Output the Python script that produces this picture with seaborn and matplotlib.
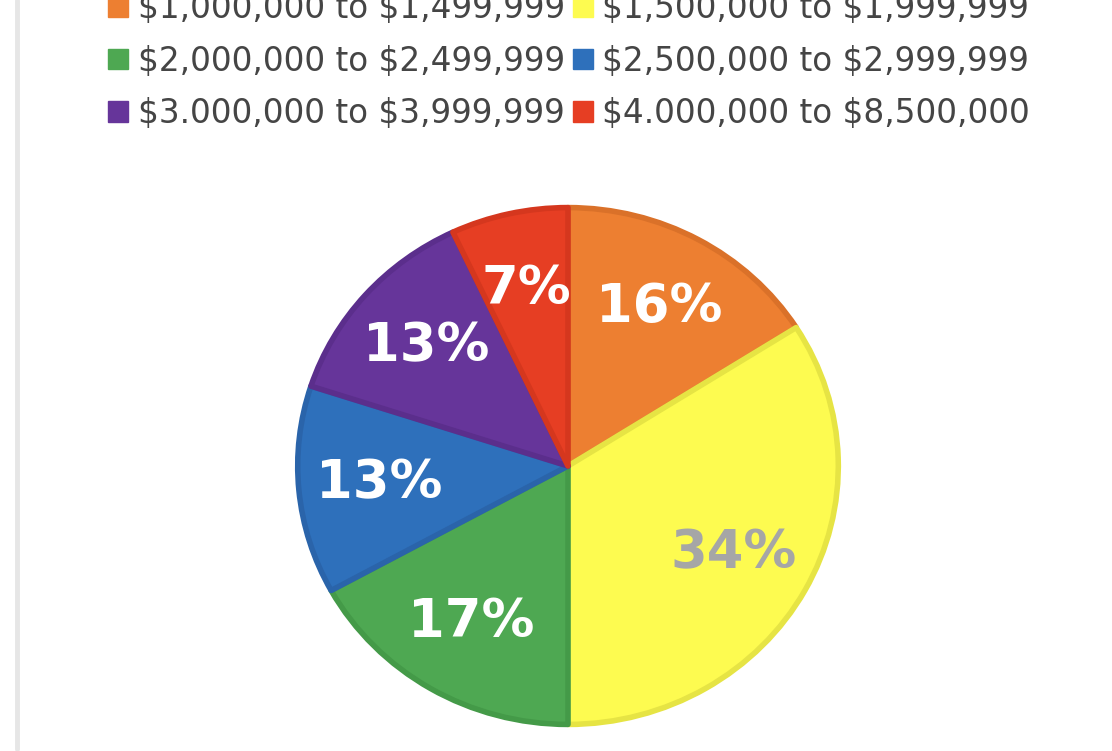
import matplotlib
matplotlib.use("Agg")
import matplotlib.pyplot as plt
import seaborn as sns
from matplotlib.patches import Patch
from matplotlib.lines import Line2D

categories = [r"\$1,000,000 to \$1,499,999", r"\$1,500,000 to \$1,999,999",
              r"\$2,000,000 to \$2,499,999", r"\$2,500,000 to \$2,999,999",
              r"\$3.000,000 to \$3,999,999", r"\$4.000,000 to \$8,500,000"]
shares = [16, 34, 17, 13, 13, 7]
fill_colors = ["#ED7F31", "#FDFB50", "#4EA852", "#2E70BB", "#66359A", "#E63E23"]
edge_colors = ["#DA7129", "#E6E444", "#449A48", "#2A64AA", "#5B2E8C", "#D5371E"]
label_colors = ["white", "#A6A6A6", "white", "white", "white", "white"]

sns.set_theme(style="white")
plt.rcParams["font.family"] = ["DejaVu Sans"]

W, H = 1112, 751
fig = plt.figure(figsize=(W / 100, H / 100), dpi=100)
fig.patch.set_facecolor("white")

cx, cy, rx, ry = 568, 466, 273, 261
ax = fig.add_axes([(cx - rx) / W, 1 - (cy + ry) / H, 2 * rx / W, 2 * ry / H])

palette = sns.color_palette(fill_colors)
wedges, texts, autotexts = ax.pie(
    shares, colors=palette, startangle=90, counterclock=False,
    autopct=lambda p: f"{p:.0f}%", pctdistance=0.70, radius=1.0,
    wedgeprops=dict(linewidth=4, joinstyle="round"),
    textprops=dict(fontsize=38, fontweight="bold"))
for w, ec in zip(wedges, edge_colors):
    w.set_edgecolor(ec)
for t, c in zip(autotexts, label_colors):
    t.set_color(c)
ax.set_aspect("auto")
ax.set_xlim(-1.01, 1.01)
ax.set_ylim(-1.01, 1.01)
ax.axis("off")

# legend, row-major order in 2 columns
handles = [Patch(facecolor=c, edgecolor=c) for c in fill_colors]
order = [0, 2, 4, 1, 3, 5]
leg = fig.legend([handles[i] for i in order], [categories[i] for i in order],
                 ncol=2, loc="center", bbox_to_anchor=(0.512, 1 - 61 / H),
                 frameon=False, fontsize=23.5, handlelength=0.6, handleheight=0.6,
                 handletextpad=0.3, columnspacing=0.25, labelspacing=0.59,
                 borderpad=0, borderaxespad=0)
for t in leg.get_texts():
    t.set_color("#454545")

# left border line
fig.add_artist(Line2D([17 / W, 17 / W], [0.003, 1], transform=fig.transFigure,
                      color="#E6E6E6", linewidth=3.5))

fig.savefig("out.png", dpi=100, facecolor="white")
